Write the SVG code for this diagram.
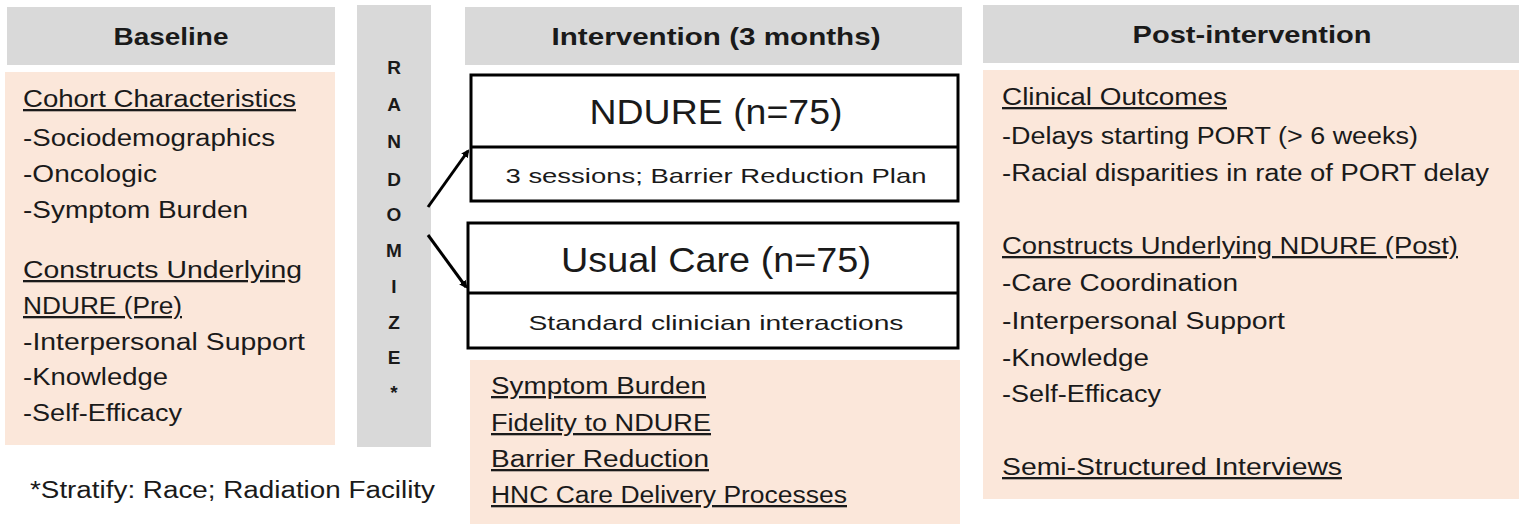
<svg xmlns="http://www.w3.org/2000/svg" width="1525" height="524" viewBox="0 0 1525 524">
<style>
.hdr{fill:#d9d9d9}
.body{fill:#fbe7da}
text{font-family:"Liberation Sans",Arial,sans-serif;fill:#1a1a1a}
.t{font-size:23px}
.h{font-size:24px;font-weight:bold;text-anchor:middle}
.u{text-decoration:underline}
.big{font-size:35px;text-anchor:middle}
.sm{font-size:21px;text-anchor:middle}
.box{fill:#fff;stroke:#000;stroke-width:3}
.rl{font-size:19px;font-weight:bold;text-anchor:middle}
.conn{stroke:#000;stroke-width:3;fill:none}
</style>
<defs>
<marker id="ah" markerWidth="8" markerHeight="8" refX="6" refY="4" orient="auto" markerUnits="userSpaceOnUse" viewBox="0 0 8 8">
<path d="M0,0 L8,4 L0,8 z" fill="#000"/>
</marker>
</defs>
<rect width="1525" height="524" fill="#fff"/>

<g id="baseline">
<rect class="hdr" x="7" y="7" width="328" height="58"/>
<text class="h" x="171" y="45" textLength="115" lengthAdjust="spacingAndGlyphs">Baseline</text>
<rect class="body" x="5" y="72" width="330" height="373"/>
<text class="t u" x="23" y="107" textLength="273" lengthAdjust="spacingAndGlyphs">Cohort Characteristics</text>
<text class="t" x="23" y="146" textLength="252" lengthAdjust="spacingAndGlyphs">-Sociodemographics</text>
<text class="t" x="23" y="182" textLength="134" lengthAdjust="spacingAndGlyphs">-Oncologic</text>
<text class="t" x="23" y="218" textLength="225" lengthAdjust="spacingAndGlyphs">-Symptom Burden</text>
<text class="t u" x="23" y="278" textLength="279" lengthAdjust="spacingAndGlyphs">Constructs Underlying</text>
<text class="t u" x="23" y="314" textLength="159" lengthAdjust="spacingAndGlyphs">NDURE (Pre)</text>
<text class="t" x="23" y="350" textLength="282" lengthAdjust="spacingAndGlyphs">-Interpersonal Support</text>
<text class="t" x="23" y="385" textLength="145" lengthAdjust="spacingAndGlyphs">-Knowledge</text>
<text class="t" x="23" y="421" textLength="159" lengthAdjust="spacingAndGlyphs">-Self-Efficacy</text>
</g>

<g id="randomize">
<rect class="hdr" x="357" y="5" width="74" height="442"/>
<text class="rl" x="394" y="74">R</text>
<text class="rl" x="394" y="111">A</text>
<text class="rl" x="394" y="148">N</text>
<text class="rl" x="394" y="186">D</text>
<text class="rl" x="394" y="221">O</text>
<text class="rl" x="394" y="257">M</text>
<text class="rl" x="394" y="293">I</text>
<text class="rl" x="394" y="329">Z</text>
<text class="rl" x="394" y="364">E</text>
<text class="rl" x="394" y="399">*</text>
</g>

<g id="footnote">
<text class="t" x="30" y="498" textLength="405" lengthAdjust="spacingAndGlyphs">*Stratify: Race; Radiation Facility</text>
</g>

<g id="intervention-header">
<rect class="hdr" x="465" y="7" width="497" height="58"/>
<text class="h" x="716" y="45" textLength="329" lengthAdjust="spacingAndGlyphs">Intervention (3 months)</text>
</g>

<g id="ndure">
<rect class="box" x="471" y="75" width="487" height="126"/>
<line x1="471" y1="147" x2="958" y2="147" stroke="#000" stroke-width="3"/>
<text class="big" x="716" y="124" textLength="253" lengthAdjust="spacingAndGlyphs">NDURE (n=75)</text>
<text class="sm" x="716" y="183" textLength="421" lengthAdjust="spacingAndGlyphs">3 sessions; Barrier Reduction Plan</text>
</g>

<g id="usual-care">
<rect class="box" x="468" y="223" width="490" height="125"/>
<line x1="468" y1="293" x2="958" y2="293" stroke="#000" stroke-width="3"/>
<text class="big" x="716" y="272" textLength="310" lengthAdjust="spacingAndGlyphs">Usual Care (n=75)</text>
<text class="sm" x="716" y="330" textLength="375" lengthAdjust="spacingAndGlyphs">Standard clinician interactions</text>
</g>

<g id="intervention-measures">
<rect class="body" x="470" y="360" width="490" height="164"/>
<text class="t u" x="491" y="394" textLength="215" lengthAdjust="spacingAndGlyphs">Symptom Burden</text>
<text class="t u" x="491" y="431" textLength="220" lengthAdjust="spacingAndGlyphs">Fidelity to NDURE</text>
<text class="t u" x="491" y="467" textLength="218" lengthAdjust="spacingAndGlyphs">Barrier Reduction</text>
<text class="t u" x="491" y="503" textLength="356" lengthAdjust="spacingAndGlyphs">HNC Care Delivery Processes</text>
</g>

<g id="post">
<rect class="hdr" x="983" y="5" width="536" height="58"/>
<text class="h" x="1252" y="43" textLength="239" lengthAdjust="spacingAndGlyphs">Post-intervention</text>
<rect class="body" x="983" y="70" width="536" height="429"/>
<text class="t u" x="1002" y="105" textLength="225" lengthAdjust="spacingAndGlyphs">Clinical Outcomes</text>
<text class="t" x="1002" y="144" textLength="416" lengthAdjust="spacingAndGlyphs">-Delays starting PORT (&gt; 6 weeks)</text>
<text class="t" x="1002" y="181" textLength="487" lengthAdjust="spacingAndGlyphs">-Racial disparities in rate of PORT delay</text>
<text class="t u" x="1002" y="254" textLength="456" lengthAdjust="spacingAndGlyphs">Constructs Underlying NDURE (Post)</text>
<text class="t" x="1002" y="291" textLength="236" lengthAdjust="spacingAndGlyphs">-Care Coordination</text>
<text class="t" x="1002" y="329" textLength="283" lengthAdjust="spacingAndGlyphs">-Interpersonal Support</text>
<text class="t" x="1002" y="366" textLength="147" lengthAdjust="spacingAndGlyphs">-Knowledge</text>
<text class="t" x="1002" y="402" textLength="159" lengthAdjust="spacingAndGlyphs">-Self-Efficacy</text>
<text class="t u" x="1002" y="475" textLength="340" lengthAdjust="spacingAndGlyphs">Semi-Structured Interviews</text>
</g>

<g id="connectors">
<line class="conn" x1="428" y1="207" x2="468" y2="151" marker-end="url(#ah)"/>
<line class="conn" x1="428" y1="235" x2="466" y2="287" marker-end="url(#ah)"/>
</g>
</svg>
